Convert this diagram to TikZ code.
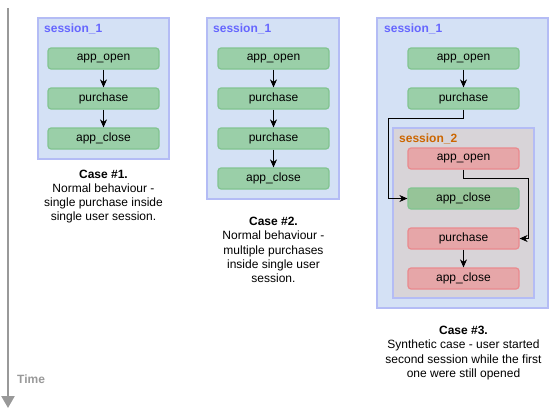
\documentclass[tikz,border=0pt]{standalone}
\usepackage{fontspec}
\setmainfont{Liberation Sans}
\usetikzlibrary{arrows.meta}
\definecolor{sessfill}{HTML}{D4E1F5}
\definecolor{sessdraw}{HTML}{B4BCF5}
\definecolor{sessone}{HTML}{6666FF}
\definecolor{sesstwofill}{HTML}{D8D4D8}
\definecolor{sesstwo}{HTML}{CC6600}
\definecolor{gfill}{HTML}{9ACFA8}
\definecolor{gfilltwo}{HTML}{96C498}
\definecolor{gdraw}{HTML}{82C490}
\definecolor{rfill}{HTML}{E6A6A8}
\definecolor{rdraw}{HTML}{EA8A8E}
\definecolor{timegray}{HTML}{999999}
\tikzset{
  sessbox/.style={draw=sessdraw, fill=sessfill, line width=1.2pt},
  sesstwobox/.style={draw=sessdraw, fill=sesstwofill, line width=1.2pt},
  evt/.style={rounded corners=3pt, line width=1.2pt, minimum width=111pt, minimum height=21pt, inner sep=0pt, font=\fontsize{12}{14}\selectfont},
  gnode/.style={evt, draw=gdraw, fill=gfill},
  gnodetwo/.style={evt, draw=gdraw, fill=gfilltwo},
  rnode/.style={evt, draw=rdraw, fill=rfill},
  flow/.style={draw=black, line width=0.9pt, -{Stealth[length=8pt,width=7pt,inset=2.5pt]}},
  slabel/.style={anchor=west, font=\fontsize{12}{14}\selectfont\bfseries, inner sep=0pt},
  caption/.style={align=center, font=\fontsize{12}{14.2}\selectfont, inner sep=0pt}
}
\begin{document}
\begin{tikzpicture}[x=1pt,y=-1pt]
\useasboundingbox (0,0) rectangle (550,418);
% time arrow
\coordinate (t0) at (8,8);
\coordinate (t1) at (8,408);
\draw[timegray, line width=2.5pt, -{Triangle[length=12pt,width=13pt]}] (t0) -- (t1);
\node[anchor=west, text=timegray, font=\fontsize{12}{14}\selectfont\bfseries, inner sep=0pt] (time) at (17,379) {Time};

% Case 1
\node[sessbox, minimum width=131pt, minimum height=141pt, inner sep=0pt] (s1a) at (103.5,88.5) {};
\node[slabel, text=sessone] (l1a) at (44,29) {session\_1};
\node[gnode] (a1) at (103.5,58.5) {app\_open};
\node[gnode] (a2) at (103.5,98.5) {purchase};
\node[gnode] (a3) at (103.5,138.5) {app\_close};
\draw[flow] (a1) -- (a2);
\draw[flow] (a2) -- (a3);
\node[caption] (c1) at (103.5,196.5) {\textbf{Case \#1.}\\Normal behaviour -\\single purchase inside\\single user session.};

% Case 2
\node[sessbox, minimum width=132pt, minimum height=181pt, inner sep=0pt] (s1b) at (273,108.5) {};
\node[slabel, text=sessone] (l1b) at (213,29) {session\_1};
\node[gnode] (b1) at (273.5,58.5) {app\_open};
\node[gnode] (b2) at (273.5,98.5) {purchase};
\node[gnode] (b3) at (273.5,138.5) {purchase};
\node[gnode] (b4) at (273.5,178.5) {app\_close};
\draw[flow] (b1) -- (b2);
\draw[flow] (b2) -- (b3);
\draw[flow] (b3) -- (b4);
\node[caption] (c2) at (273.5,250) {\textbf{Case \#2.}\\Normal behaviour -\\multiple purchases\\inside single user\\session.};

% Case 3
\node[sessbox, minimum width=171pt, minimum height=290pt, inner sep=0pt] (s1c) at (462.5,163) {};
\node[slabel, text=sessone] (l1c) at (384,29) {session\_1};
\node[sesstwobox, minimum width=141pt, minimum height=170pt, inner sep=0pt] (s2c) at (463.5,213) {};
\node[slabel, text=sesstwo] (l2c) at (399,139) {session\_2};
\node[gnode] (d1) at (463.5,58.5) {app\_open};
\node[gnode] (d2) at (463.5,98.5) {purchase};
\node[rnode] (e1) at (463.5,158.5) {app\_open};
\node[gnodetwo] (d3) at (463.5,198.5) {app\_close};
\node[rnode] (e2) at (463.5,238.5) {purchase};
\node[rnode] (e3) at (463.5,278.5) {app\_close};
\draw[flow] (d1) -- (d2);
\coordinate (k1) at (463.5,118);
\coordinate (k2) at (388,118);
\draw[flow] (d2.south) -- (k1) -- (k2) |- (d3.west);
\coordinate (k3) at (463.5,178);
\coordinate (k4) at (528,178);
\draw[flow] (e1.south) -- (k3) -- (k4) |- (e2.east);
\draw[flow] (e2) -- (e3);
\node[caption] (c3) at (463.5,353) {\textbf{Case \#3.}\\Synthetic case - user started\\second session while the first\\one were still opened};
\end{tikzpicture}
\end{document}
